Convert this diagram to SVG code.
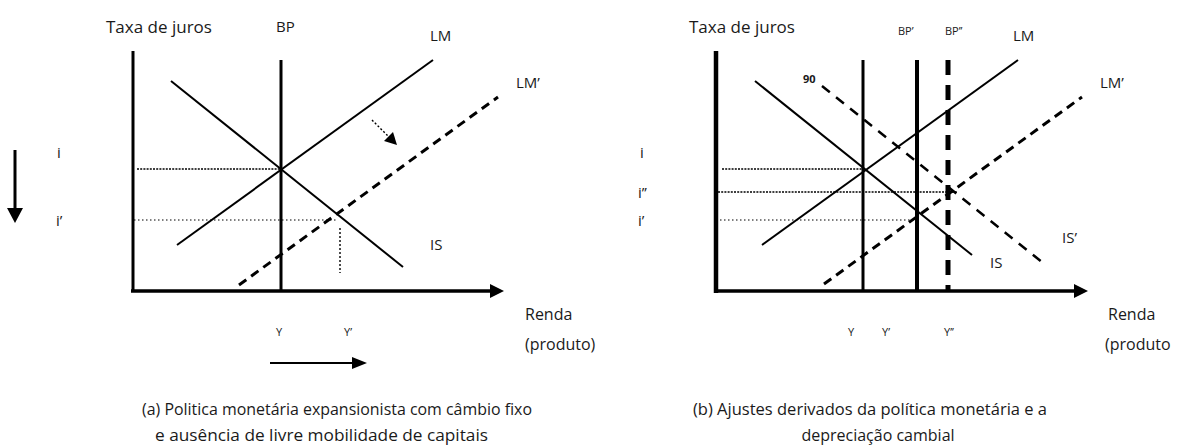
<svg xmlns="http://www.w3.org/2000/svg" width="1183" height="448" viewBox="0 0 1183 448">
<style>
text{font-family:"Open Sans","DejaVu Sans",sans-serif;fill:#1a1a1a}
.ttl{font-size:17px}
.lbl{font-size:15px}
.sm{font-size:11px}
.cap{font-size:16px}
.ln{stroke:#000;fill:none;stroke-linecap:butt}
.curve{stroke-width:2}
.dash{stroke-width:3;stroke-dasharray:9 6}
.dotD{stroke-width:1.6;stroke-dasharray:2 1.2}
.dotS{stroke-width:1.2;stroke-dasharray:1.5 2.5}
.head{fill:#000}
</style>
<defs>
<marker id="axHead" markerUnits="userSpaceOnUse" markerWidth="16" markerHeight="14" refX="4" refY="7" orient="auto">
<path d="M0,0 L14,7 L0,14 z" fill="#000"/>
</marker>
</defs>

<g id="panel-a">
<g id="a-texts">
<text class="ttl" x="106" y="33">Taxa de juros</text>
<text class="lbl" x="276" y="32">BP</text>
<text class="lbl" x="430" y="41">LM</text>
<text class="lbl" x="516" y="88">LM’</text>
<text class="lbl" x="430" y="250">IS</text>
<text class="lbl" x="57" y="158">i</text>
<text class="lbl" x="56" y="226">i’</text>
<text class="sm" x="276" y="336">Y</text>
<text class="sm" x="344" y="336">Y’</text>
<text class="cap" x="525" y="320">Renda</text>
<text class="cap" x="525" y="350">(produto)</text>
<text class="cap" x="142" y="415" textLength="390" lengthAdjust="spacingAndGlyphs">(a) Politica monetária expansionista com câmbio fixo</text>
<text class="cap" x="155" y="441" textLength="333" lengthAdjust="spacingAndGlyphs">e ausência de livre mobilidade de capitais</text>
</g>
<g id="a-connectors">
<line class="ln" x1="133" y1="51" x2="133" y2="292" stroke-width="3"/>
<line class="ln" x1="131" y1="291" x2="494" y2="291" stroke-width="3.5" marker-end="url(#axHead)"/>
<line class="ln" x1="281" y1="60" x2="281" y2="291" stroke-width="3"/>
<line class="ln curve" x1="171" y1="81" x2="403" y2="267"/>
<line class="ln curve" x1="177" y1="245" x2="433" y2="60"/>
<line class="ln dash" x1="239" y1="285" x2="498" y2="97"/>
<line class="ln dotD" x1="137" y1="169" x2="281" y2="169"/>
<line class="ln dotS" x1="134" y1="220" x2="338" y2="220"/>
<line class="ln" x1="340" y1="228" x2="340" y2="273" stroke-width="1.4" stroke-dasharray="2 2"/>
<line class="ln" x1="372" y1="120" x2="389" y2="137" stroke-width="1.4" stroke-dasharray="2 2"/>
<polygon class="head" points="384,141 393,132 397,145"/>
<line class="ln" x1="15" y1="150" x2="15" y2="212" stroke-width="3"/>
<polygon class="head" points="7,208 23,208 15,223"/>
<line class="ln" x1="270" y1="363" x2="355" y2="363" stroke-width="2"/>
<polygon class="head" points="352,357 367,363 352,369"/>
</g>
</g>

<g id="panel-b">
<g id="b-texts">
<text class="ttl" x="689" y="33">Taxa de juros</text>
<text class="sm" x="898" y="35">BP’</text>
<text class="sm" x="945" y="35">BP’’</text>
<text class="lbl" x="1013" y="41">LM</text>
<text class="lbl" x="1100" y="88">LM’</text>
<text class="lbl" x="990" y="268">IS</text>
<text class="lbl" x="1062" y="243">IS’</text>
<text class="sm" x="803" y="83" font-weight="bold">90</text>
<text class="lbl" x="640" y="158">i</text>
<text class="lbl" x="638" y="198">i’’</text>
<text class="lbl" x="638" y="226">i’</text>
<text class="sm" x="848" y="336">Y</text>
<text class="sm" x="882" y="336">Y’</text>
<text class="sm" x="944" y="336">Y’’</text>
<text class="cap" x="1108" y="320">Renda</text>
<text class="cap" x="1105" y="350">(produto</text>
<text class="cap" x="693" y="415" textLength="354" lengthAdjust="spacingAndGlyphs">(b) Ajustes derivados da política monetária e a</text>
<text class="cap" x="878" y="441" font-size="14.5" text-anchor="middle">depreciação cambial</text>
</g>
<g id="b-connectors">
<line class="ln" x1="716" y1="51" x2="716" y2="293" stroke-width="4.5"/>
<line class="ln" x1="714" y1="291" x2="1078" y2="291" stroke-width="3.5" marker-end="url(#axHead)"/>
<line class="ln" x1="863" y1="60" x2="863" y2="291" stroke-width="3"/>
<line class="ln" x1="917" y1="60" x2="917" y2="291" stroke-width="4"/>
<line class="ln" x1="948" y1="60" x2="948" y2="291" stroke-width="5" stroke-dasharray="15 10"/>
<line class="ln curve" x1="755" y1="81" x2="972" y2="255"/>
<line class="ln curve" x1="762" y1="245" x2="1018" y2="60"/>
<line class="ln" x1="822" y1="86" x2="1042" y2="262" stroke-width="2.5" stroke-dasharray="10 8"/>
<line class="ln dash" x1="824" y1="284" x2="1082" y2="97"/>
<line class="ln dotD" x1="722" y1="169" x2="863" y2="169"/>
<line class="ln dotD" x1="718" y1="192" x2="957" y2="192"/>
<line class="ln dotS" x1="720" y1="220" x2="917" y2="220"/>
</g>
</g>
</svg>
